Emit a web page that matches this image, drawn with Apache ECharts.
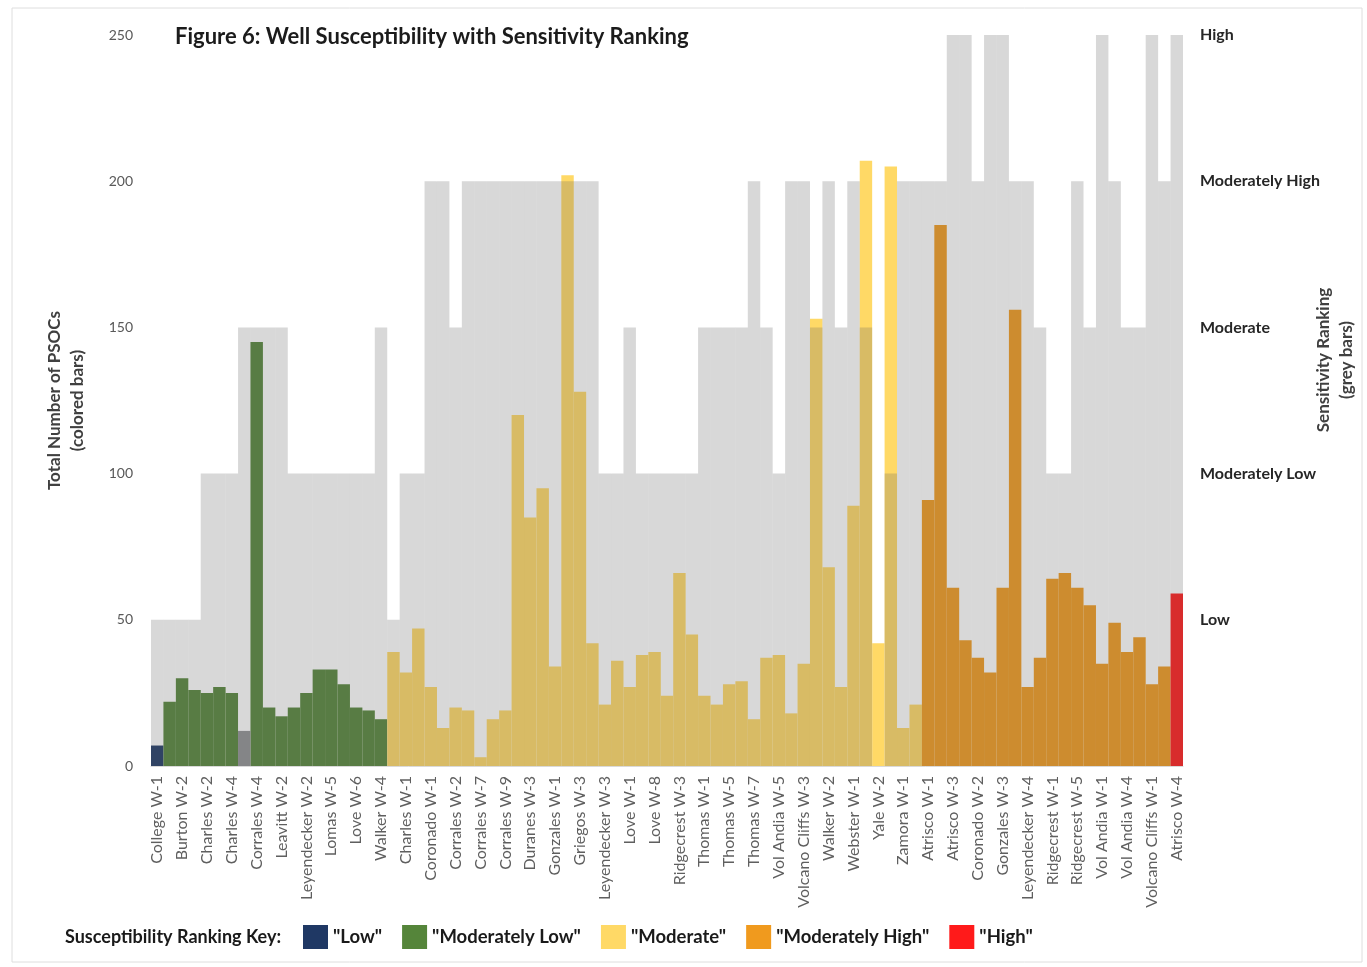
<!DOCTYPE html>
<html><head><meta charset="utf-8">
<script src="https://cdn.jsdelivr.net/npm/echarts@6/dist/echarts.min.js"></script>
<style>html,body{margin:0;padding:0;background:#fff}#c{width:1367px;height:967px}</style>
</head><body><div id="c"></div>
<script>
// ---- data ----
const categories = [
 'College W-1','Burton W-1','Burton W-2','Burton W-3','Charles W-2','Charles W-3','Charles W-4','Corrales W-1','Corrales W-4','Corrales W-5',
 'Leavitt W-2','Leavitt W-3','Leyendecker W-2','Lomas W-1','Lomas W-5','Love W-2','Love W-6','Love W-7','Walker W-4','Burton W-4',
 'Charles W-1','Charles W-5','Coronado W-1','Coronado W-3','Corrales W-2','Corrales W-3','Corrales W-7','Corrales W-8','Corrales W-9','Duranes W-1',
 'Duranes W-3','Duranes W-5','Gonzales W-1','Gonzales W-2','Griegos W-3','Griegos W-4','Leyendecker W-3','Lomas W-2','Love W-1','Love W-3',
 'Love W-8','Ridgecrest W-2','Ridgecrest W-3','Ridgecrest W-4','Thomas W-1','Thomas W-2','Thomas W-5','Thomas W-6','Thomas W-7','Vol Andia W-2',
 'Vol Andia W-5','Volcano Cliffs W-2','Volcano Cliffs W-3','Walker W-1','Walker W-2','Walker W-3','Webster W-1','Yale W-1','Yale W-2','Yale W-3',
 'Zamora W-1','Zamora W-2','Atrisco W-1','Atrisco W-2','Atrisco W-3','Burton W-5','Coronado W-2','Duranes W-6','Gonzales W-3','Leyendecker W-1',
 'Leyendecker W-4','Lomas W-6','Ridgecrest W-1','Ridgecrest W-6','Ridgecrest W-5','Thomas W-3','Vol Andia W-1','Vol Andia W-3','Vol Andia W-4','Vol Andia W-6',
 'Volcano Cliffs W-1','Webster W-2','Atrisco W-4'
];
// total number of PSOCs (coloured bars)
const psocValues = [
 7,22,30,26,25,27,25,12,145,20,17,20,25,33,33,28,20,19,16,
 39,32,47,27,13,20,19,3,16,19,120,85,95,34,202,128,42,21,36,27,38,39,24,66,45,24,21,28,29,16,37,38,18,35,153,68,27,89,207,42,205,13,21,
 91,185,61,43,37,32,61,156,27,37,64,66,61,55,35,49,39,44,28,34,
 59
];
// susceptibility ranking of each well (L, ML, M, MH, H; U = unranked)
const susceptibility = [
 'L','ML','ML','ML','ML','ML','ML','U','ML','ML','ML','ML','ML','ML','ML','ML','ML','ML','ML',
 'M','M','M','M','M','M','M','M','M','M','M','M','M','M','M','M','M','M','M','M','M','M',
 'M','M','M','M','M','M','M','M','M','M','M','M','M','M','M','M','M','M','M','M','M',
 'MH','MH','MH','MH','MH','MH','MH','MH','MH','MH','MH','MH','MH','MH','MH','MH','MH','MH','MH','MH',
 'H'
];
// sensitivity ranking (grey bars) on the same 0-250 scale
const sensitivityValues = [
 50,50,50,50,100,100,100,150,150,150,150,100,100,100,100,100,100,100,150,50,
 100,100,200,200,150,200,200,200,200,200,200,200,200,200,200,200,100,100,150,100,
 100,100,100,100,150,150,150,150,200,150,100,200,200,150,200,150,200,150,0,100,
 200,200,200,200,250,250,200,250,250,200,200,150,100,100,200,150,250,200,150,150,
 250,200,250
];
const leftTicks = [0, 50, 100, 150, 200, 250];
const rankLabels = ['', 'Low', 'Moderately Low', 'Moderate', 'Moderately High', 'High'];
const groupKeys = ['L', 'ML', 'M', 'MH', 'H', 'U'];
const groupNames = ['"Low"', '"Moderately Low"', '"Moderate"', '"Moderately High"', '"High"', 'Unranked'];

// ---- styles ----
const groupColors = ['#1f3864', '#55853a', '#ffd966', '#f09a1e', '#ff1a1a', '#8f9093'];
const FONT = 'Lato, "Open Sans", sans-serif';

const chart = echarts.init(document.getElementById('c'));
const series = groupKeys.map((k, gi) => ({
  type: 'bar', name: groupNames[gi],
  data: psocValues.map((v, i) => susceptibility[i] === k ? v : '-'),
  barGap: '-100%', barCategoryGap: '0%',
  itemStyle: { color: groupColors[gi] }, z: 2
}));
series.push({
  type: 'bar', name: 'Sensitivity', yAxisIndex: 1,
  data: sensitivityValues,
  barGap: '-100%', barCategoryGap: '0%',
  itemStyle: { color: 'rgba(100,100,100,0.25)' }, z: 3
});

chart.setOption({
  animation: false,
  backgroundColor: '#fff',
  textStyle: { fontFamily: FONT },
  title: {
    text: 'Figure 6: Well Susceptibility with Sensitivity Ranking',
    left: 170, top: 21,
    textStyle: { fontSize: 22, fontWeight: 'bold', color: '#1b1b1b', fontFamily: FONT }
  },
  grid: { left: 151, right: 184, top: 35, bottom: 201 },
  legend: {
    data: groupNames.slice(0, 5),
    left: 303, top: 925, itemWidth: 25, itemHeight: 24, itemGap: 20, padding: 0,
    icon: 'rect', selectedMode: false,
    textStyle: { fontSize: 18.5, fontWeight: 'bold', color: '#1a1a1a', fontFamily: FONT }
  },
  xAxis: {
    type: 'category', data: categories,
    axisLine: { lineStyle: { color: '#d9d9d9' } },
    axisTick: { show: false },
    axisLabel: { interval: 1, rotate: 90, fontSize: 16, color: '#5f5f5f', margin: 10, fontFamily: FONT }
  },
  yAxis: [{
    type: 'value', min: leftTicks[0], max: leftTicks[leftTicks.length - 1], interval: 50,
    splitLine: { show: false }, axisLine: { show: false }, axisTick: { show: false },
    axisLabel: { fontSize: 14, color: '#595959', margin: 18, fontFamily: FONT },
    name: 'Total Number of PSOCs\n(colored bars)', nameLocation: 'middle', nameGap: 62,
    nameTextStyle: { fontSize: 17, fontWeight: 'bold', color: '#404040', lineHeight: 23, fontFamily: FONT }
  }, {
    type: 'value', position: 'right', min: 0, max: 250, interval: 50,
    splitLine: { show: false }, axisLine: { show: false }, axisTick: { show: false },
    axisLabel: {
      formatter: v => rankLabels[Math.round(v / 50)] || '',
      fontSize: 16, fontWeight: 'bold', color: '#262626', margin: 17, fontFamily: FONT
    }
  }],
  graphic: [
    { type: 'rect', shape: { x: 12, y: 8, width: 1350, height: 954 },
      style: { fill: 'none', stroke: '#dedede', lineWidth: 1 }, z: -10, silent: true },
    { type: 'text', x: 65, y: 937,
      style: { text: 'Susceptibility Ranking Key:', fontSize: 18, fontWeight: 'bold', fill: '#1a1a1a',
               verticalAlign: 'middle', fontFamily: FONT } },
    { type: 'text', x: 1335, y: 360, rotation: Math.PI / 2,
      style: { text: 'Sensitivity Ranking\n(grey bars)', fontSize: 17, fontWeight: 'bold', fill: '#404040',
               align: 'center', verticalAlign: 'middle', lineHeight: 23, fontFamily: FONT } }
  ],
  series: series
});
</script></body></html>
